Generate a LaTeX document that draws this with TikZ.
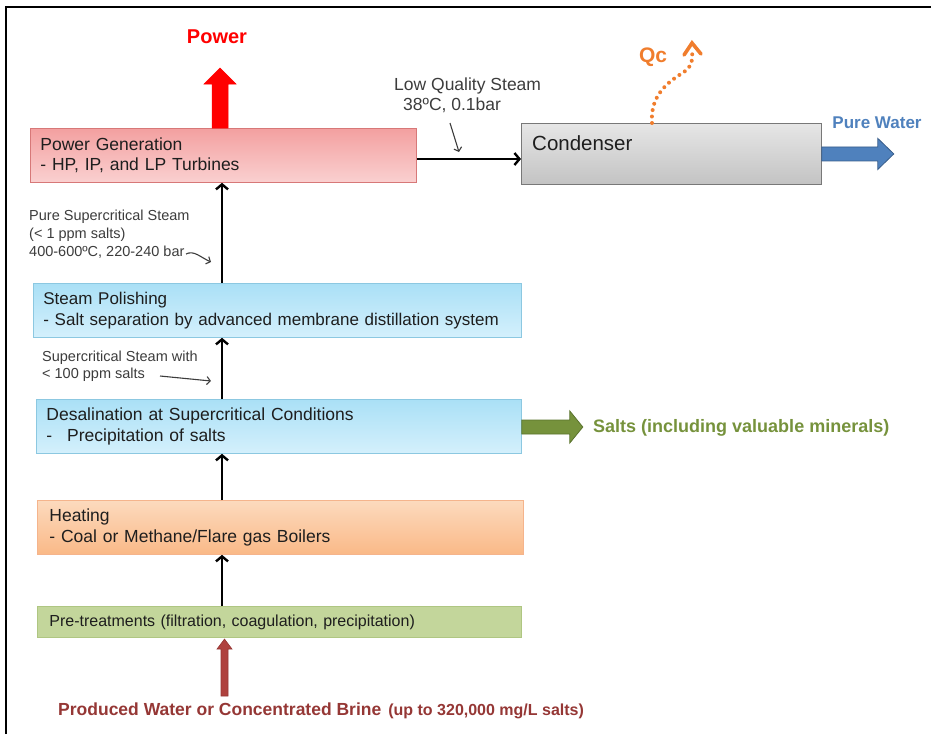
\documentclass[tikz,border=0pt]{standalone}
\usepackage{fontspec}
\setmainfont{Liberation Sans}
\usetikzlibrary{arrows.meta,calc}
\definecolor{txt}{RGB}{30,30,30}
\definecolor{lbl}{RGB}{60,60,60}
\definecolor{pgtop}{RGB}{243,160,160}
\definecolor{pgbot}{RGB}{250,208,208}
\definecolor{pgline}{RGB}{215,120,120}
\definecolor{cdtop}{RGB}{230,230,230}
\definecolor{cdbot}{RGB}{195,195,195}
\definecolor{cdline}{RGB}{120,120,120}
\definecolor{bltop}{RGB}{170,224,246}
\definecolor{blbot}{RGB}{212,240,252}
\definecolor{blline}{RGB}{140,200,225}
\definecolor{ortop}{RGB}{252,218,190}
\definecolor{orbot}{RGB}{250,185,135}
\definecolor{orline}{RGB}{245,180,140}
\definecolor{grfill}{RGB}{195,214,155}
\definecolor{grline}{RGB}{175,198,130}
\definecolor{pwblue}{RGB}{79,129,189}
\definecolor{pwline}{RGB}{56,93,138}
\definecolor{sagreen}{RGB}{118,146,60}
\definecolor{saline}{RGB}{90,115,45}
\definecolor{qcorange}{RGB}{240,125,45}
\definecolor{brred}{RGB}{149,55,53}
\definecolor{brfill}{RGB}{175,65,62}
\newcommand{\blockarr}[7]{%
  \draw[#1, shift={#2}, rotate=#3] (0,-#5) -- (#4,-#5) -- (#4,-#7) -- ({#4+#6},0) -- (#4,#7) -- (#4,#5) -- (0,#5) -- cycle;}
\tikzset{
  box/.style={draw, line width=0.8pt, anchor=north west, align=left, inner xsep=10pt, inner ysep=0pt,
    font=\fontsize{17.5}{20.5}\selectfont, text=txt},
  flow/.style={line width=2.4pt, -{Straight Barb[length=5pt,width=12pt]}},
  pointer/.style={draw=lbl, line width=1.1pt, -{Straight Barb[length=3.5pt,width=8pt]}},
  note/.style={inner sep=0pt, align=left, text=lbl},
}
\begin{document}
\begin{tikzpicture}[x=1pt,y=-1pt]
\useasboundingbox (0,0) rectangle (931,734);
\draw[line width=2pt] (6,734) -- (6,7) -- (932,7);

% boxes
\node[box, draw=pgline, top color=pgtop, bottom color=pgbot, text width=366pt, minimum height=54pt] (pg) at (30,128)
  {Power Generation\\- HP, IP, and LP Turbines};
\node[box, draw=cdline, top color=cdtop, bottom color=cdbot, minimum width=300pt, minimum height=61pt] (cond) at (521,123) {};
\node[anchor=west, inner sep=0pt, font=\fontsize{20.5}{24}\selectfont, text=txt] (condtxt) at ($(cond.north west)+(11,20)$) {Condenser};
\node[box, draw=blline, top color=bltop, bottom color=blbot, text width=468pt, minimum height=54pt,
  font=\fontsize{17}{21.5}\selectfont] (sp) at (33,283)
  {\mbox{Steam Polishing}\\\mbox{- Salt separation by advanced membrane distillation system}};
\node[box, draw=blline, top color=bltop, bottom color=blbot, text width=465pt, minimum height=54pt] (ds) at (36,399)
  {Desalination at Supercritical Conditions\\-\hspace{15pt}Precipitation of salts};
\node[box, draw=orline, top color=ortop, bottom color=orbot, text width=462pt, minimum height=54pt, inner xsep=12pt] (ht) at (37,500)
  {Heating\\- Coal or Methane/Flare gas Boilers};
\node[box, draw=grline, fill=grfill, text width=460pt, minimum height=31pt, inner xsep=12pt,
  font=\fontsize{16}{19}\selectfont] (pre) at (37,606)
  {Pre-treatments (filtration, coagulation, precipitation)};

% vertical flow arrows
\coordinate (ax) at (222,0);
\draw[flow] (sp.north -| ax) -- (pg.south -| ax);
\draw[flow] (ds.north -| ax) -- (sp.south -| ax);
\draw[flow] (ht.north -| ax) -- (ds.south -| ax);
\draw[flow] (pre.north -| ax) -- (ht.south -| ax);
\draw[flow] (pg.east |- 0,159) -- (cond.west |- 0,159);

% labels
\node[inner sep=0pt, font=\fontsize{20}{24}\bfseries\selectfont, text=red] (power) at (217,37) {Power};
\node[inner sep=0pt, font=\fontsize{21}{24}\bfseries\selectfont, text=qcorange] (qc) at (653,57) {Qc};
\node[inner sep=0pt, font=\fontsize{17}{20}\bfseries\selectfont, text=pwblue] (pw) at (877,123) {Pure Water};
\node[anchor=west, inner sep=0pt, font=\fontsize{18}{22}\bfseries\selectfont, text=sagreen] (salts) at (593,428)
  {Salts (including valuable minerals)};
\node[anchor=west, inner sep=0pt, text=brred] (brine) at (58,711)
  {{\fontsize{17.5}{20}\bfseries\selectfont Produced Water or Concentrated Brine}\hspace{7pt}{\fontsize{16}{20}\bfseries\selectfont(up to 320,000 mg/L salts)}};
\node[note, anchor=west, font=\fontsize{17.5}{20}\selectfont] (lqs) at (394,95)
  {Low Quality Steam\\\hspace*{9pt}38ºC, 0.1bar};
\node[note, anchor=west, font=\fontsize{14.5}{18}\selectfont] (pss) at (29,234)
  {Pure Supercritical Steam\\(< 1 ppm salts)\\400-600ºC, 220-240 bar};
\node[note, anchor=west, font=\fontsize{14.5}{17}\selectfont] (scs) at (42,366.5)
  {Supercritical Steam with\\< 100 ppm salts};

% pointers
\draw[pointer] (450,123) -- (459,152);
\draw[pointer] (186,254) .. controls (194,250) and (200,257) .. (211,262);
\draw[pointer] (160,376) -- (211,381);

% block arrows
\coordinate (pwst) at (cond.east);
\blockarr{fill=pwblue, draw=pwline, line width=0.8pt}{(pwst)}{0}{56}{7}{16}{15.5}
\coordinate (sast) at (ds.east |- 0,427);
\blockarr{fill=sagreen, draw=saline, line width=0.8pt}{(sast)}{0}{48}{7}{13}{16}
\coordinate (pwrst) at (pg.north -| 220,0);
\blockarr{fill=red, draw=red, line width=0.5pt}{(pwrst)}{90}{44}{8}{16}{16}
\coordinate (brfoot) at (224.5,696);
\blockarr{fill=brfill, draw=brred, line width=0.6pt}{(brfoot)}{90}{47}{3.5}{10}{7.5}

% Qc dotted heat arrow
\coordinate (qcst) at (cond.north -| 652,0);
\draw[qcorange, line width=4pt, line cap=round, dash pattern=on 0pt off 6.5pt]
  (qcst) .. controls (650,95) and (668,82) .. (684,72) .. controls (692,66) and (693,60) .. (692,52);
\draw[qcorange, line width=3.6pt, line cap=round, line join=miter] (684,55) -- (692,43) -- (701,54);
\end{tikzpicture}
\end{document}
